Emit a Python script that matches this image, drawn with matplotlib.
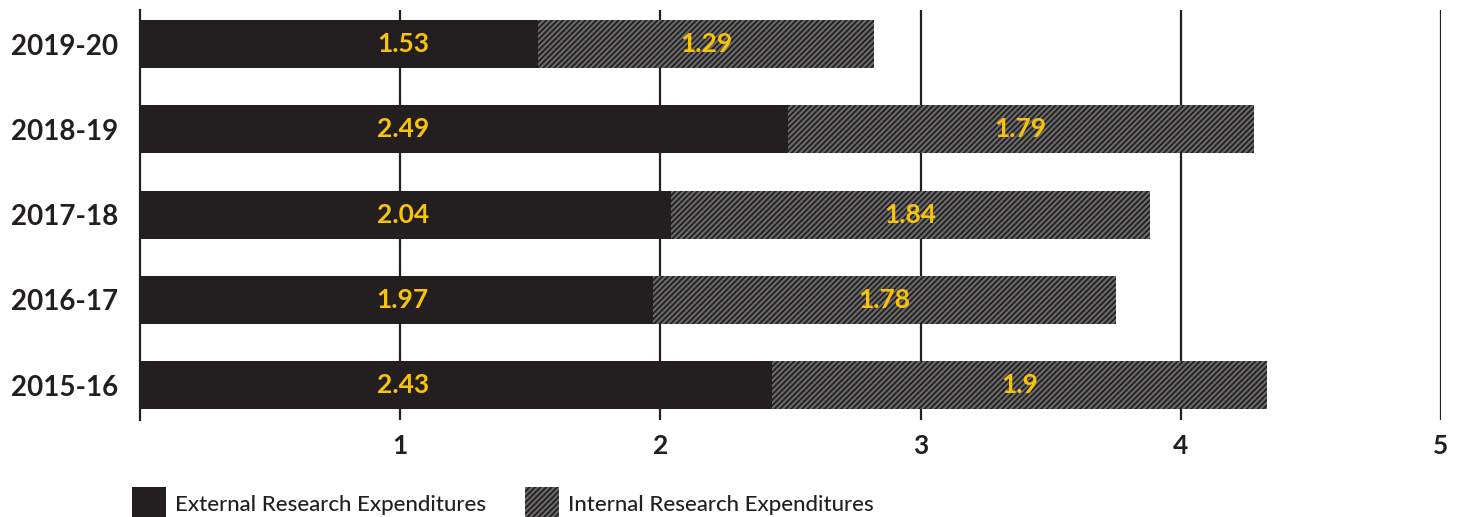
import matplotlib
matplotlib.use('Agg')
import matplotlib.pyplot as plt
from matplotlib.patches import Patch

years = ['2015-16', '2016-17', '2017-18', '2018-19', '2019-20']
external = [2.43, 1.97, 2.04, 2.49, 1.53]
internal = [1.9, 1.78, 1.84, 1.79, 1.29]
xticks = [1, 2, 3, 4, 5]

dark = '#231f20'
hatch_face = '#6a6a6a'
yellow = '#f7c409'

plt.rcParams['font.family'] = ['Lato', 'DejaVu Sans']
plt.rcParams['hatch.color'] = dark
plt.rcParams['hatch.linewidth'] = 1.3

fig = plt.figure(figsize=(14.63, 5.17), dpi=100)
ax = fig.add_axes([140 / 1463, 1 - 420 / 517, 1301 / 1463, 410 / 517])

pos = list(range(len(years)))
ax.barh(pos, external, height=0.563, color=dark, zorder=3)
ax.barh(pos, internal, left=external, height=0.563, color=hatch_face,
        hatch='//////', edgecolor=dark, linewidth=0, zorder=3)

for i in pos:
    ax.text(1.01, i, '%g' % external[i], color=yellow, fontsize=19,
            fontweight='bold', ha='center', va='center', zorder=4)
    ax.text(external[i] + internal[i] / 2, i, '%g' % internal[i], color=yellow,
            fontsize=19, fontweight='bold', ha='center', va='center', zorder=4)

ax.set_xlim(0, 5)
ax.set_ylim(-0.41, 4.40)
ax.set_xticks(xticks)
ax.set_xticklabels([str(t) for t in xticks])
ax.set_yticks(pos)
ax.set_yticklabels(years)
ax.tick_params(axis='x', length=0, pad=10, labelsize=19, labelcolor=dark)
ax.tick_params(axis='y', length=0, pad=15.5, labelsize=20, labelcolor=dark)
for lab in ax.get_xticklabels() + ax.get_yticklabels():
    lab.set_fontweight('bold')

ax.grid(axis='x', color=dark, linewidth=1.6, zorder=1)
for s in ['top', 'right', 'bottom']:
    ax.spines[s].set_visible(False)
ax.spines['left'].set_color(dark)
ax.spines['left'].set_linewidth(1.6)

handles = [Patch(facecolor=dark, label='External Research Expenditures'),
           Patch(facecolor=hatch_face, hatch='//////', edgecolor=dark, linewidth=0,
                 label='Internal Research Expenditures')]
fig.legend(handles=handles, loc='upper left', bbox_to_anchor=(132 / 1463, 1 - 487 / 517),
           ncol=2, frameon=False, handlelength=1.53, handleheight=1.9,
           handletextpad=0.4, columnspacing=1.76, borderpad=0, borderaxespad=0,
           labelcolor=dark, prop={'weight': 'medium', 'size': 16})

fig.savefig('out.png', dpi=100)
